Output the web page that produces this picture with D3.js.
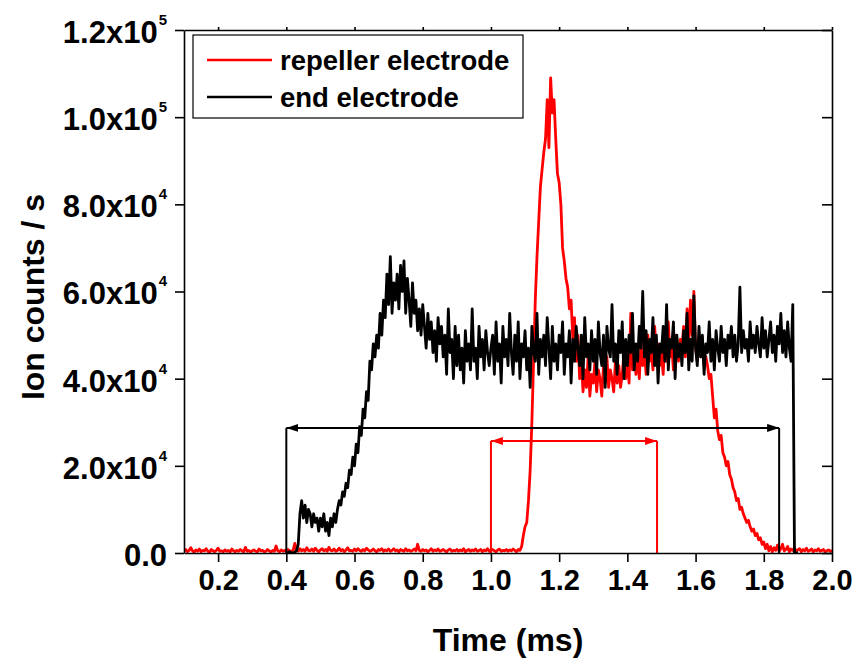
<!DOCTYPE html>
<html>
<head>
<meta charset="utf-8">
<script src="https://cdn.jsdelivr.net/npm/d3@7"></script>
<style>
  body { margin: 0; background: #fff; }
  text { font-family: "Liberation Sans", Arial, sans-serif; font-weight: bold; }
</style>
</head>
<body>
<svg id="chart"></svg>
<script>
// Sampling grid of the traces (ms)
const repellerStart = 0.10;
const endStart = 0.40;
const sampleStep = 0.005;

// Repeller electrode trace, ion counts in units of 1000 /s (0.100 .. 2.000 ms)
const repellerK = [
  0.4,0.8,0.3,0.6,1.2,0.5,0.2,0.7,0.4,0.9,
  0.3,0.6,0.5,1.0,0.4,0.2,0.8,0.5,0.3,0.6,
  1.1,0.4,0.5,0.3,0.7,0.4,0.6,0.2,0.9,0.5,
  0.3,0.6,0.4,0.8,0.5,0.3,1.3,0.4,0.6,0.2,
  0.5,0.7,0.4,0.3,0.9,0.5,0.6,0.3,0.4,0.8,
  0.5,0.2,0.6,0.4,1.6,0.5,0.3,0.7,0.4,0.6,
  0.3,0.8,0.5,0.4,0.6,2.2,0.7,0.4,1.0,0.5,
  0.8,0.4,1.2,0.6,0.5,0.9,0.4,1.1,0.6,0.3,
  0.7,1.0,0.5,0.8,0.4,1.3,0.6,0.5,0.9,0.4,
  0.6,1.1,0.5,0.8,0.3,0.7,1.2,0.5,0.6,0.4,
  0.9,0.5,1.0,0.6,0.4,0.8,0.5,1.1,0.7,0.4,
  0.6,0.9,0.5,0.3,0.8,0.6,1.0,0.4,0.7,0.5,
  0.9,0.4,0.6,1.0,0.5,0.7,0.3,0.8,0.6,0.4,
  1.0,0.5,0.7,0.4,0.6,0.9,0.5,2.0,0.6,0.4,
  0.8,0.5,0.7,0.3,0.6,1.0,0.4,0.7,0.5,0.9,
  0.4,0.6,0.8,0.5,0.3,0.7,0.9,0.4,0.6,0.5,
  0.8,0.4,0.7,0.5,1.0,0.3,0.6,0.8,0.4,0.7,
  0.5,0.9,0.4,0.6,0.8,0.3,0.7,0.5,1.0,0.4,
  0.6,0.8,0.5,0.3,0.7,0.9,0.4,0.6,0.5,0.8,
  0.4,0.7,0.5,0.9,0.6,0.3,0.8,
  // rise and peak
  0.6,1.5,4,6,7,12,19,30,44,58,
  68,76,84,88,92,95,104,93,109,101,
  104,95,87,85,80,70,67,63,61,56,
  58,49,54,44,50,40,
  // plateau
  44,37,42,38,45,36,41,39,44,37,
  42,40,36,43,39,45,38,42,40,37,
  44,39,43,38,41,46,40,44,39,55,
  42,47,41,45,40,48,43,46,41,50,
  44,47,42,52,45,48,43,46,41,49,
  44,53,45,48,42,50,46,44,49,47,
  52,45,56,48,58,50,60,47,44,48,
  45,47,43,45,
  // decay
  43,40,41,36,31,33,28,26,27,23,
  22,20,21,18,17,15,14,12,12.5,10,
  10.5,9,8,7,7.5,6,5,5.5,4,4.5,
  3,3.5,2,2.5,1,2,0.5,1.5,0.3,1.2,
  // tail
  0.6,1.8,0.4,1.0,2.0,0.5,0.8,1.5,0.3,0.9,
  0.6,1.2,0.4,0.7,1.0,0.3,0.8,0.5,1.1,0.4,
  0.6,0.9,0.3,0.7,0.5,1.0,0.4,0.6,0.8,0.3,
  0.5,0.7,0.4,0.6
];

// End electrode trace, ion counts in units of 1000 /s (0.400 .. 1.900 ms)
const endK = [
  0,0,0.3,0,0,0.2,0.5,
  2,9,12,8,11,7,10,9,6,9,7,8,5,8,6,9,5,7,4,8,6,9,7,
  10,12,11,14,13,16,15,19,18,22,
  20,25,23,29,27,33,31,37,35,44,
  42,48,45,50,47,55,50,58,54,64,
  57,68,55,62,58,64,56,66,60,67,
  55,63,58,52,62,55,58,51,56,50,
  57,52,47,55,49,53,46,51,44,54,
  48,52,45,50,41,56,46,49,40,52,
  43,50,42,47,39,51,44,48,42,56,
  44,47,40,52,45,49,42,51,46,43,
  47,50,41,53,44,48,39,52,45,49,
  43,55,46,41,50,44,53,40,48,45,
  51,42,47,38,52,46,44,55,41,49,
  45,50,43,54,47,40,52,44,48,42,
  50,46,53,41,48,45,51,39,49,44,
  52,47,43,50,40,54,45,48,42,51,
  44,49,41,53,46,43,50,38,52,47,
  45,57,44,48,41,51,46,53,40,49,
  43,50,46,55,42,48,44,52,47,60,
  45,51,41,49,46,54,43,50,39,48,
  46,52,44,57,42,49,47,53,40,50,
  45,48,43,51,46,55,42,49,44,59,
  47,43,52,45,50,41,48,46,53,44,
  49,42,51,47,44,52,46,49,43,50,
  47,52,45,50,44,48,61,46,51,47,
  49,44,53,47,50,46,52,48,45,54,
  47,51,45,49,53,46,50,44,52,48,
  55,46,51,45,53,47,44,57,
  0,0,0
];

// Time windows marked with double arrows: [from, to] in ms, height in counts/s
const endWindow = [0.40, 1.845];
const endWindowLevel = 28700;
const repellerWindow = [1.0, 1.487];
const repellerWindowLevel = 25700;

const seriesNames = ["repeller electrode", "end electrode"];
const xTicks = [0.2, 0.4, 0.6, 0.8, 1.0, 1.2, 1.4, 1.6, 1.8, 2.0];
const yTicks = [0, 20000, 40000, 60000, 80000, 100000, 120000];

const RED = "#ff0000";
const BLACK = "#000000";

// Layout
const svgWidth = 856;
const svgHeight = 661;
const margin = { top: 30, right: 24, bottom: 108, left: 184 };
const width = svgWidth - margin.left - margin.right;
const height = svgHeight - margin.top - margin.bottom;

const root = d3.select("#chart")
    .attr("width", svgWidth)
    .attr("height", svgHeight);

const svg = root.append("g")
    .attr("transform", `translate(${margin.left},${margin.top})`);

const x = d3.scaleLinear().domain([0.1, 2.0]).range([0, width]);
const y = d3.scaleLinear().domain([0, 120000]).range([height, 0]);

// Build point lists from the typed values
const repellerData = repellerK.map((v, i) => ({ t: repellerStart + i * sampleStep, c: v * 1000 }));
const endData = endK.map((v, i) => ({ t: endStart + i * sampleStep, c: v * 1000 }));

// Clip
root.append("defs").append("clipPath")
    .attr("id", "plot-clip")
    .append("rect")
    .attr("x", 0).attr("y", -2)
    .attr("width", width).attr("height", height + 2);

// Arrow markers
const defs = root.select("defs");
[["arrow-black", BLACK], ["arrow-red", RED]].forEach(([id, col]) => {
    defs.append("marker")
        .attr("id", id)
        .attr("viewBox", "0 0 12 8")
        .attr("refX", 12)
        .attr("refY", 4)
        .attr("markerUnits", "userSpaceOnUse")
        .attr("markerWidth", 12)
        .attr("markerHeight", 8)
        .attr("orient", "auto-start-reverse")
        .append("path")
        .attr("d", "M0,0 L12,4 L0,8 Z")
        .attr("fill", col);
});

// Data lines
const line = d3.line()
    .x(d => x(d.t))
    .y(d => y(d.c));

const plot = svg.append("g").attr("clip-path", "url(#plot-clip)");

plot.append("path")
    .datum(repellerData)
    .attr("fill", "none")
    .attr("stroke", RED)
    .attr("stroke-width", 2.8)
    .attr("stroke-linejoin", "round")
    .attr("d", line);

plot.append("path")
    .datum(endData)
    .attr("fill", "none")
    .attr("stroke", BLACK)
    .attr("stroke-width", 2.8)
    .attr("stroke-linejoin", "round")
    .attr("d", line);

// Window brackets with double arrows
function drawWindow(range, level, col, marker) {
    const g = svg.append("g");
    range.forEach(t => {
        g.append("line")
            .attr("x1", x(t)).attr("x2", x(t))
            .attr("y1", y(level)).attr("y2", y(0))
            .attr("stroke", col)
            .attr("stroke-width", 2);
    });
    g.append("line")
        .attr("x1", x(range[0])).attr("x2", x(range[1]))
        .attr("y1", y(level)).attr("y2", y(level))
        .attr("stroke", col)
        .attr("stroke-width", 2)
        .attr("marker-start", `url(#${marker})`)
        .attr("marker-end", `url(#${marker})`);
}
drawWindow(endWindow, endWindowLevel, BLACK, "arrow-black");
drawWindow(repellerWindow, repellerWindowLevel, RED, "arrow-red");

// Axes
const xAxis = svg.append("g")
    .attr("class", "axis x-axis")
    .attr("transform", `translate(0,${height})`)
    .call(d3.axisBottom(x)
        .tickValues(xTicks)
        .tickSize(9)
        .tickSizeOuter(0)
        .tickPadding(7)
        .tickFormat(d3.format(".1f")));

xAxis.selectAll("text")
    .attr("font-size", 29)
    .attr("font-family", null)
    .attr("fill", "#000");

const yAxis = svg.append("g")
    .attr("class", "axis y-axis")
    .call(d3.axisLeft(y)
        .tickValues(yTicks)
        .tickSize(9)
        .tickSizeOuter(0)
        .tickFormat(""));

// Scientific tick labels with superscript exponent
yAxis.selectAll(".tick").each(function (d) {
    const t = d3.select(this).append("text")
        .attr("x", -17)
        .attr("dy", "0.4em")
        .attr("text-anchor", "end")
        .attr("font-size", 31)
        .attr("fill", "#000");
    if (d === 0) {
        t.text("0.0");
    } else {
        const e = Math.floor(Math.log10(d));
        const m = d / Math.pow(10, e);
        t.append("tspan").text(m.toFixed(1) + "x10");
        t.append("tspan")
            .attr("font-size", 15)
            .attr("dx", 1)
            .attr("dy", -18)
            .text(e);
    }
});

svg.append("g")
    .attr("class", "axis top-axis")
    .call(d3.axisTop(x)
        .tickValues(xTicks)
        .tickSize(3)
        .tickSizeOuter(0)
        .tickFormat(""));

svg.append("g")
    .attr("class", "axis right-axis")
    .attr("transform", `translate(${width},0)`)
    .call(d3.axisRight(y)
        .tickValues(yTicks)
        .tickSize(-10)
        .tickSizeOuter(0)
        .tickFormat(""));

svg.selectAll(".axis path.domain").attr("stroke", "#000").attr("stroke-width", 1.6);
svg.selectAll(".axis .tick line").attr("stroke", "#000").attr("stroke-width", 1.6);

// Axis titles
svg.append("text")
    .attr("x", 324)
    .attr("y", height + 98)
    .attr("text-anchor", "middle")
    .attr("font-size", 32)
    .text("Time (ms)");

svg.append("text")
    .attr("transform", "rotate(-90)")
    .attr("x", -267)
    .attr("y", -140)
    .attr("text-anchor", "middle")
    .attr("font-size", 32)
    .text("Ion counts / s");

// Legend
const legend = svg.append("g").attr("transform", "translate(9,5)");
legend.append("rect")
    .attr("width", 330)
    .attr("height", 83)
    .attr("fill", "#fff")
    .attr("stroke", "#000")
    .attr("stroke-width", 1.2);

[RED, BLACK].forEach((col, i) => {
    const ly = 25 + i * 37;
    legend.append("line")
        .attr("x1", 14).attr("x2", 79)
        .attr("y1", ly).attr("y2", ly)
        .attr("stroke", col)
        .attr("stroke-width", 2.5);
    legend.append("text")
        .attr("x", 87)
        .attr("y", ly)
        .attr("dy", "0.36em")
        .attr("font-size", 27.5)
        .text(seriesNames[i]);
});
</script>
</body>
</html>
